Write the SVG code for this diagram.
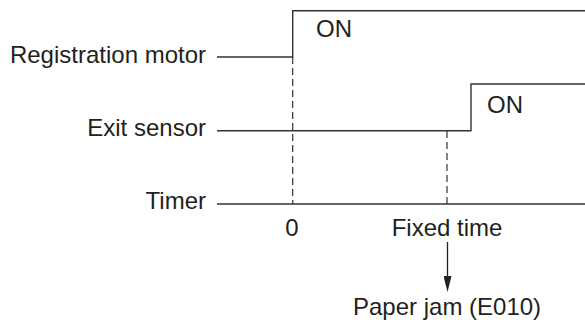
<svg xmlns="http://www.w3.org/2000/svg" width="585" height="326" viewBox="0 0 585 326">
<style>
text{font-family:"Liberation Sans",Arial,sans-serif;font-size:24px;fill:#231f20}
.sig{fill:none;stroke:#333;stroke-width:1.4}
.dash{fill:none;stroke:#333;stroke-width:1.2;stroke-dasharray:7 4}
.arrow{fill:none;stroke:#231f20;stroke-width:1.3}
</style>
<defs>
<marker id="ah" viewBox="0 0 8 16" refX="4" refY="0" markerWidth="8" markerHeight="16" markerUnits="userSpaceOnUse" orient="0">
<path d="M0,0 L8,0 L4,16 Z" fill="#231f20"/>
</marker>
</defs>
<rect width="585" height="326" fill="#fff"/>
<g id="registration-motor">
<text x="206" y="63" text-anchor="end">Registration motor</text>
<path class="sig" d="M217,57 H292.7 V10.7 H585"/>
<text x="316" y="37">ON</text>
</g>
<g id="exit-sensor">
<text x="206" y="136" text-anchor="end">Exit sensor</text>
<path class="sig" d="M217,130.7 H471 V84 H585"/>
<text x="487" y="113">ON</text>
</g>
<g id="timer">
<text x="206" y="209" text-anchor="end">Timer</text>
<path class="sig" d="M217,204 H585"/>
<text x="292" y="236" text-anchor="middle">0</text>
<text x="447" y="236" text-anchor="middle">Fixed time</text>
</g>
<g id="paper-jam">
<text x="353" y="315">Paper jam (E010)</text>
</g>
<g id="connectors">
<path class="dash" d="M292.7,57 V204"/>
<path class="dash" d="M447,131 V204"/>
<path class="arrow" d="M447.5,242 V276" marker-end="url(#ah)"/>
</g>
</svg>
